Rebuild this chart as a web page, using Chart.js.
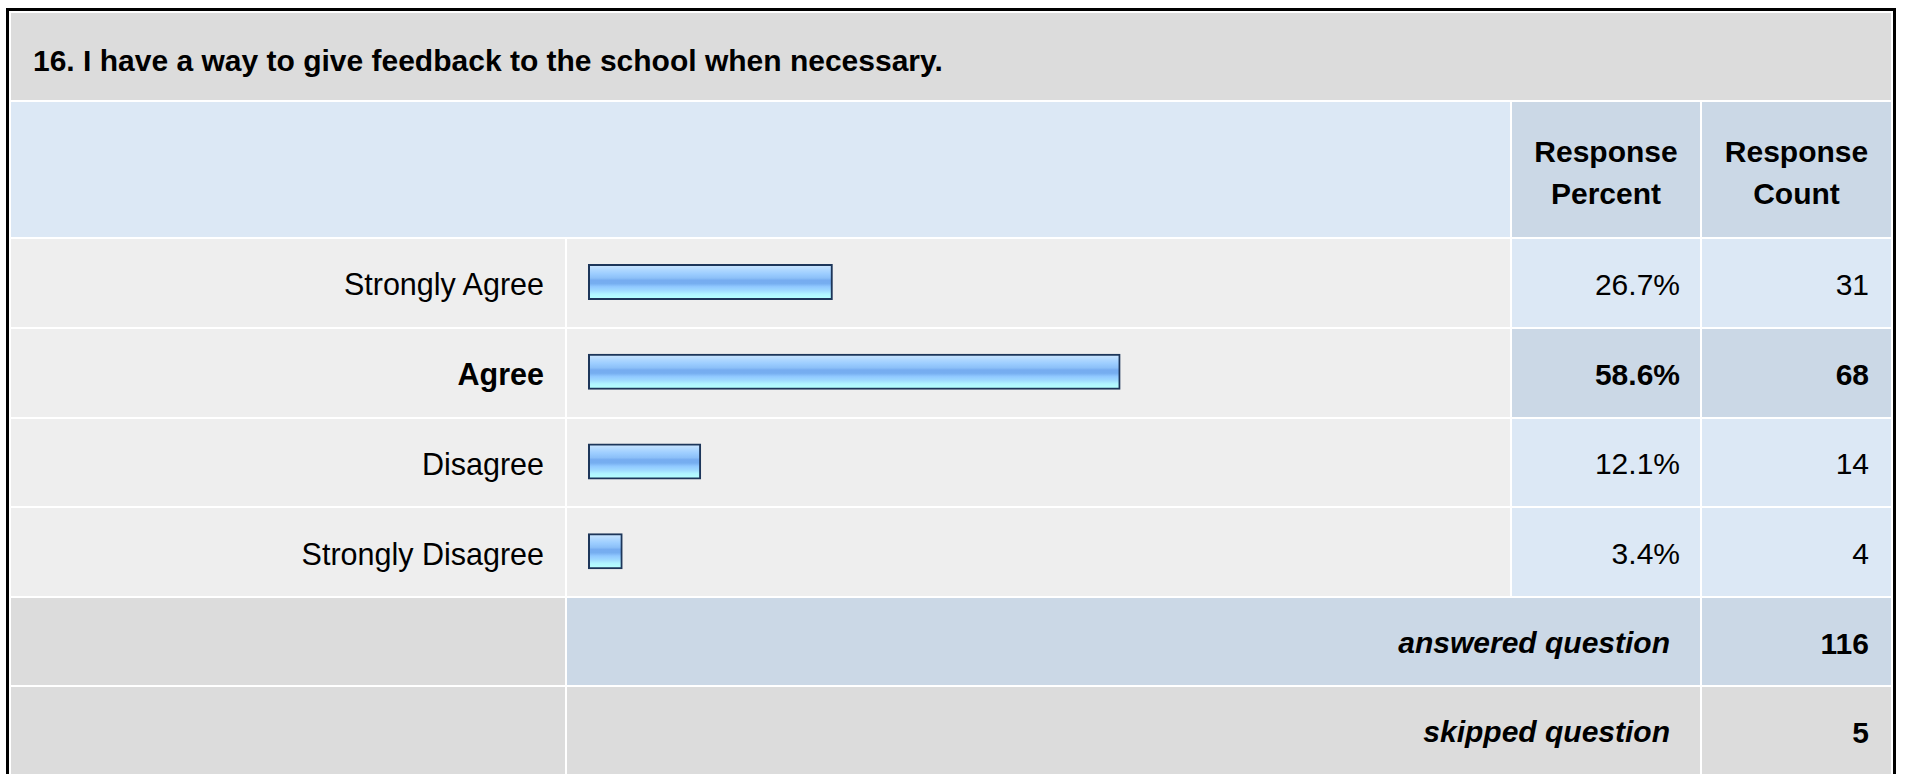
<!DOCTYPE html>
<html>
<head>
<meta charset="utf-8">
<script src="https://cdn.jsdelivr.net/npm/chart.js@4.4.1/dist/chart.umd.min.js"></script>
<style>
    html, body { margin: 0; padding: 0; background: #fff; overflow: hidden; }
    body { width: 1907px; height: 774px; position: relative; font-family: "Liberation Sans", Arial, sans-serif; color: #000; }
    #frame {
        position: absolute; left: 6px; top: 8px;
        border: 3px solid #000; padding: 2px; background: #fff;
    }
    #grid {
        display: grid;
        grid-template-columns: 554px 943px 188px 189px;
        grid-template-rows: 87px 135px repeat(4, 87.75px) 87px 88px;
        gap: 2px;
        font-size: 30px;
    }
    .cell { display: flex; align-items: center; box-sizing: border-box; }
    .gray { background: #dcdcdc; }
    .light { background: #eeeeee; }
    .blue { background: #dce8f5; }
    .dark { background: #cbd8e6; }
    .title { grid-column: 1 / -1; font-weight: bold; padding: 9px 0 0 22px; }
    .head { justify-content: center; text-align: center; font-weight: bold; line-height: 42px; padding-top: 6px; }
    .label { justify-content: flex-end; padding: 4px 21px 0 0; font-size: 30.5px; }
    .pct { justify-content: flex-end; padding: 4px 20px 0 0; }
    .cnt { justify-content: flex-end; padding: 4px 22px 0 0; }
    .sum { grid-column: 2 / 4; justify-content: flex-end; padding: 2px 30px 0 0; font-weight: bold; font-style: italic; }
    .b { font-weight: bold; }
    #bars { position: absolute; left: 567px; top: 237px; }
</style>
</head>
<body>
<div id="frame"><div id="grid"></div></div>
<canvas id="bars" width="943" height="359"></canvas>
<script>
// 設問とデータ
const questionTitle = '16. I have a way to give feedback to the school when necessary.';
const categories = ['Strongly Agree', 'Agree', 'Disagree', 'Strongly Disagree'];
const percents = [26.7, 58.6, 12.1, 3.4];
const counts = [31, 68, 14, 4];
const headerLabels = ['Response<br>Percent', 'Response<br>Count'];
const answeredCount = 116;
const skippedCount = 5;

// 一番多い回答の行を強調する
const topIndex = percents.indexOf(Math.max(...percents));

// 表の組み立て
const grid = document.getElementById('grid');
function addCell(cls, html, style) {
    const d = document.createElement('div');
    d.className = 'cell ' + cls;
    if (html !== undefined) d.innerHTML = html;
    if (style) d.style.cssText = style;
    grid.appendChild(d);
}

addCell('gray title', questionTitle);
addCell('blue', '', 'grid-column: 1 / 3;');
addCell('dark head', headerLabels[0]);
addCell('dark head', headerLabels[1]);

categories.forEach((name, i) => {
    const strong = i === topIndex ? ' b' : '';
    const tone = i === topIndex ? 'dark' : 'blue';
    addCell('light label' + strong, name);
    addCell('light', '');
    addCell(tone + ' pct' + strong, percents[i].toFixed(1) + '%');
    addCell(tone + ' cnt' + strong, String(counts[i]));
});

addCell('gray', '');
addCell('dark sum', 'answered question');
addCell('dark cnt b', String(answeredCount));
addCell('gray', '');
addCell('gray sum', 'skipped question');
addCell('gray cnt b', String(skippedCount));

// バーの縦グラデーション (縞模様っぽい青)
const stops = [
    [0, '#c8e4ff'], [0.12, '#b0d8ff'], [0.25, '#9ccdff'], [0.38, '#8cc0f8'],
    [0.45, '#76acf0'], [0.55, '#76aef0'], [0.65, '#90c8ff'], [0.78, '#a0dcff'],
    [0.88, '#b0f4ff'], [1, '#b4ffff']
];
const barThickness = 32;

function barFill(context) {
    const chart = context.chart;
    const yScale = chart.scales.y;
    if (!yScale || context.dataIndex === undefined) return stops[4][1];
    const cy = yScale.getPixelForValue(context.dataIndex);
    // レイアウト前は座標が決まらないので単色で返す
    if (!Number.isFinite(cy)) return stops[4][1];
    const g = chart.ctx.createLinearGradient(0, cy - barThickness / 2, 0, cy + barThickness / 2);
    stops.forEach(([o, c]) => g.addColorStop(o, c));
    return g;
}

new Chart(document.getElementById('bars'), {
    type: 'bar',
    data: {
        labels: categories,
        datasets: [{
            data: percents,
            backgroundColor: barFill,
            borderColor: '#1d365a',
            borderWidth: 2,
            borderSkipped: false,
            inflateAmount: 2,
            barThickness: barThickness,
            clip: false
        }]
    },
    options: {
        indexAxis: 'y',
        responsive: false,
        devicePixelRatio: 1,
        animation: false,
        layout: { padding: { left: 23, right: 18, top: 0, bottom: 0 } },
        scales: {
            x: { display: false, min: 0, max: 100 },
            y: { display: false }
        },
        plugins: {
            legend: { display: false },
            tooltip: { enabled: false }
        }
    }
});
</script>
</body>
</html>
